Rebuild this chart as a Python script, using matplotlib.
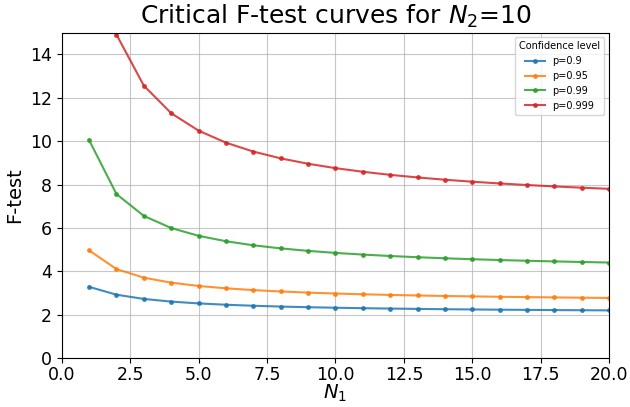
import matplotlib
matplotlib.use("Agg")
import matplotlib.pyplot as plt

# N1 values (N2 = 10)
n1 = list(range(1, 21))

# critical F values
f_090 = [3.285, 2.924, 2.728, 2.605, 2.522, 2.461, 2.414, 2.377, 2.347, 2.323,
         2.302, 2.284, 2.269, 2.255, 2.244, 2.233, 2.224, 2.215, 2.208, 2.201]
f_095 = [4.965, 4.103, 3.708, 3.478, 3.326, 3.217, 3.135, 3.072, 3.020, 2.978,
         2.943, 2.913, 2.887, 2.865, 2.845, 2.828, 2.812, 2.798, 2.785, 2.774]
f_099 = [10.044, 7.559, 6.552, 5.994, 5.636, 5.386, 5.200, 5.057, 4.942, 4.849,
         4.772, 4.706, 4.650, 4.601, 4.558, 4.520, 4.487, 4.457, 4.430, 4.405]
f_0999 = [21.04, 14.905, 12.553, 11.283, 10.481, 9.926, 9.517, 9.204, 8.956, 8.754,
          8.587, 8.445, 8.325, 8.220, 8.129, 8.048, 7.976, 7.911, 7.853, 7.800]

series = [("p=0.9", f_090), ("p=0.95", f_095), ("p=0.99", f_099), ("p=0.999", f_0999)]

fig = plt.figure(figsize=(6.3, 4.07), dpi=100)
ax = fig.add_axes([0.098, 0.12, 0.869, 0.80])

for label, vals in series:
    ax.plot(n1, vals, marker='o', markersize=2.5, linewidth=1.5, label=label, alpha=0.85)

ax.set_xlim(0, 20)
ax.set_ylim(0, 15)
ax.grid(True, color='#b0b0b0', alpha=0.7)
ax.tick_params(labelsize=12.5)
ax.tick_params(axis='x', pad=2)
ax.set_xlabel(r"$N_1$", fontsize=14, labelpad=-1)
ax.set_ylabel("F-test", fontsize=14)
ax.set_title(r"Critical F-test curves for $N_2$=10", fontsize=18)
leg = ax.legend(title="Confidence level", fontsize=7, title_fontsize=7, loc='upper right')

fig.savefig("out.png", dpi=100)
